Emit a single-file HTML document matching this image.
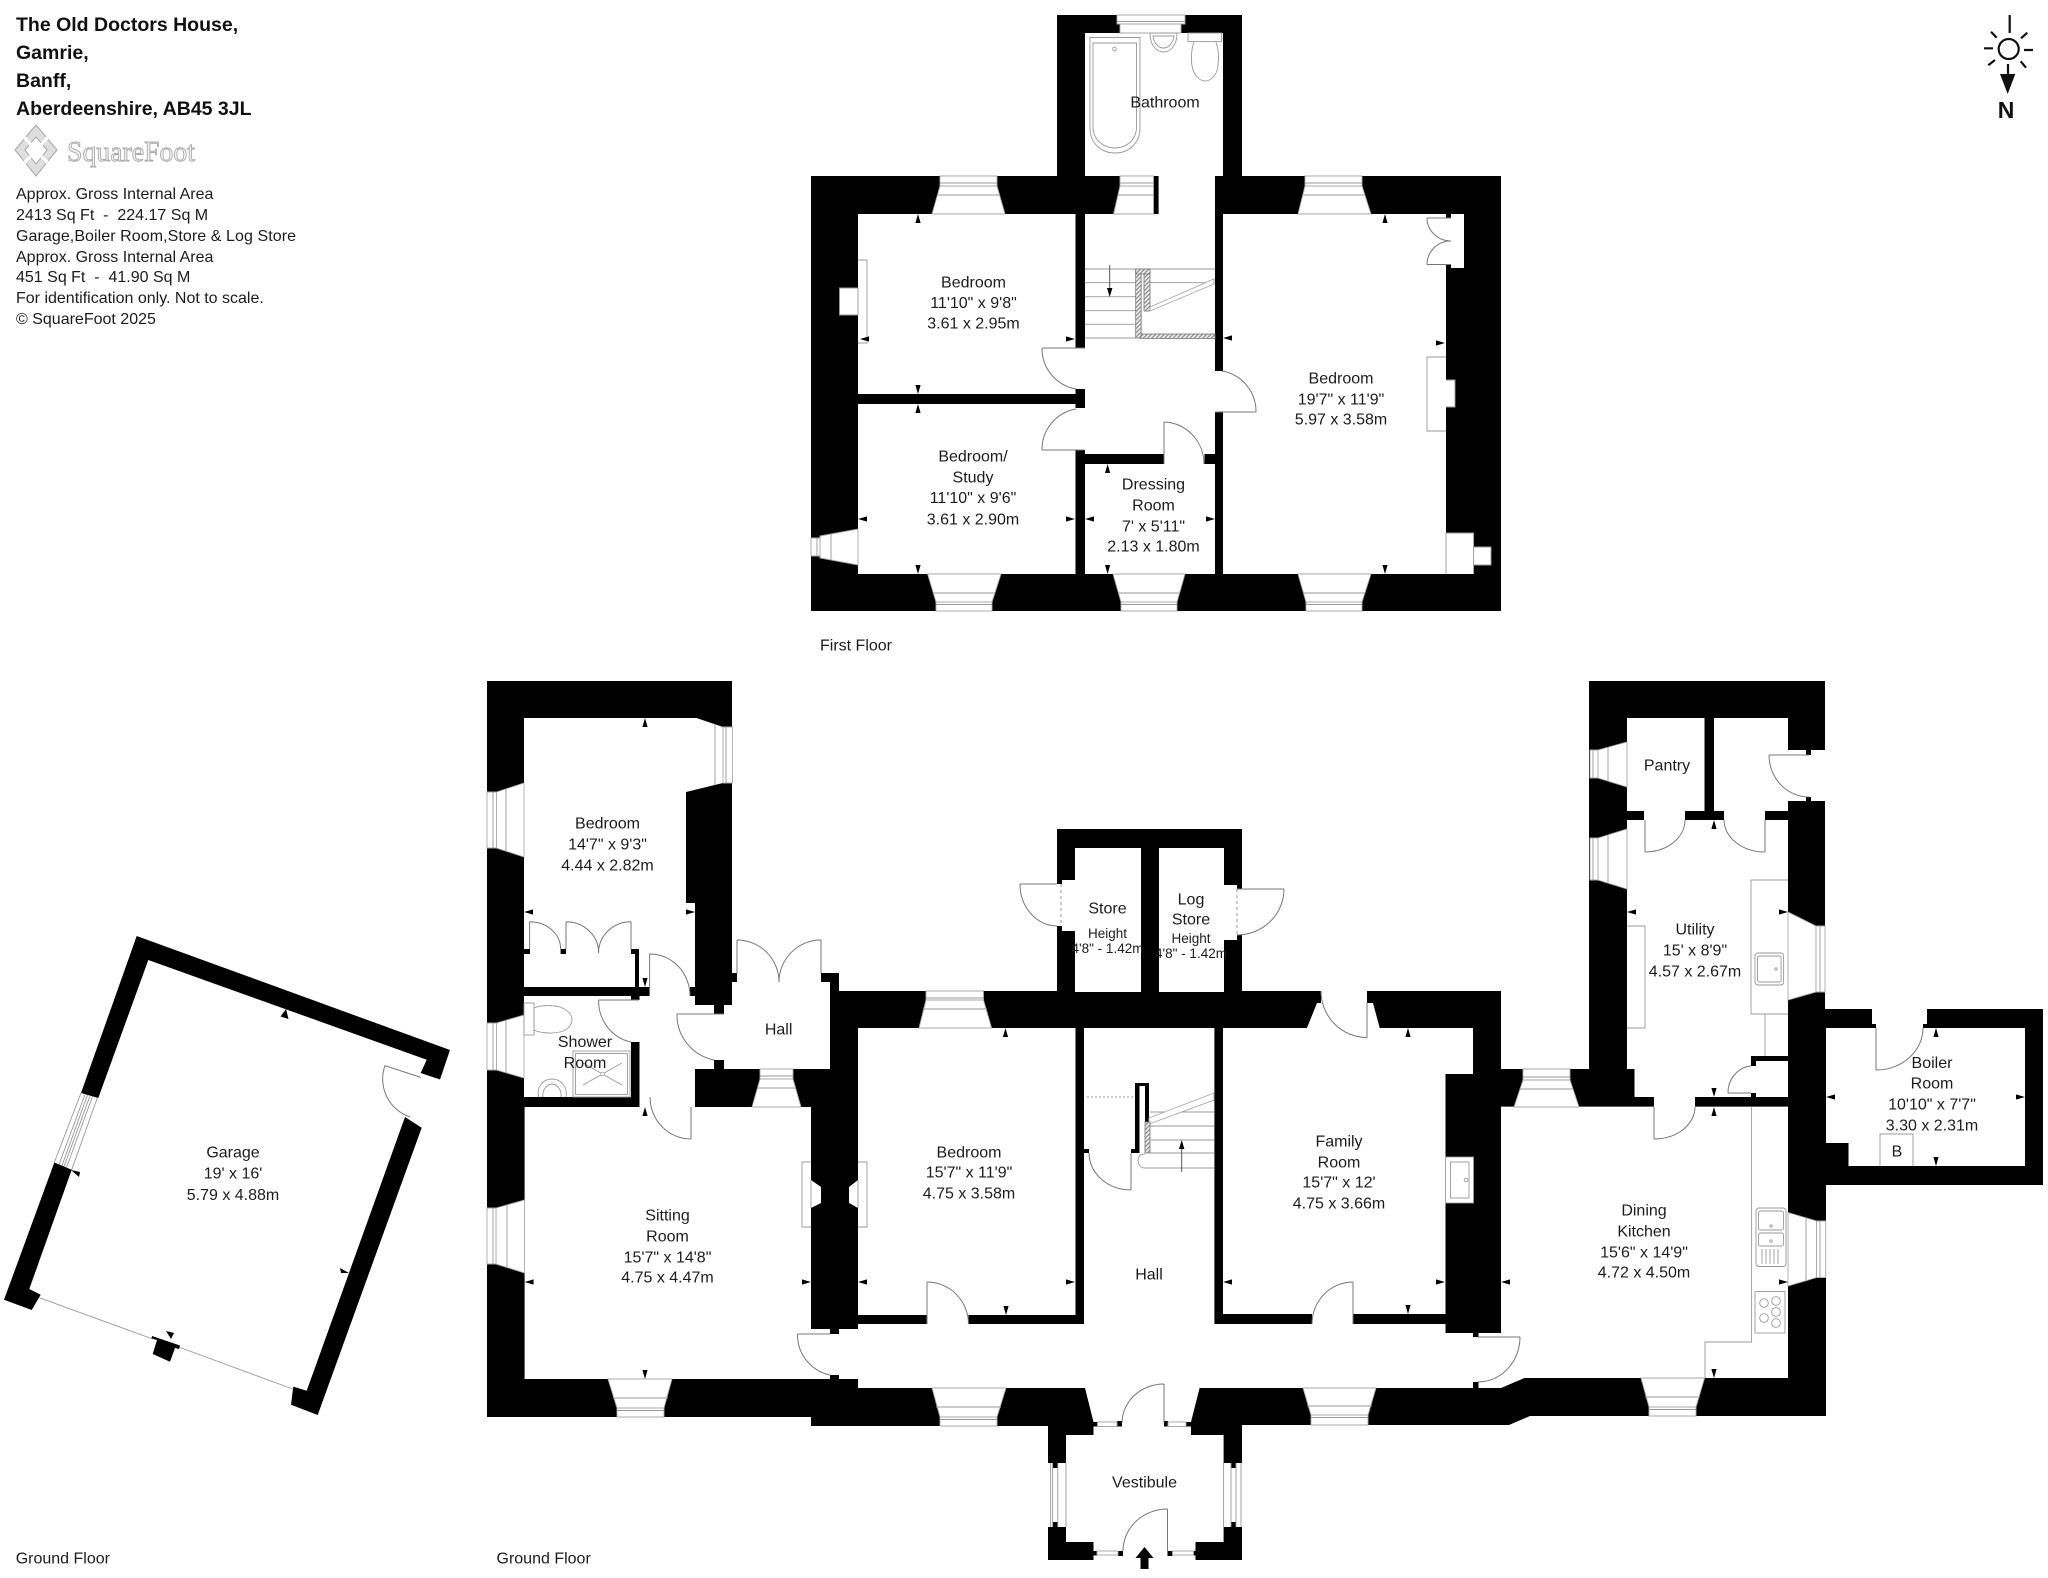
<!DOCTYPE html>
<html><head><meta charset="utf-8"><title>The Old Doctors House floor plan</title>
<style>
html,body{margin:0;padding:0;background:#fff}
svg{display:block}
text{font-family:"Liberation Sans",Arial,sans-serif;fill:#1c1c1c;font-size:16px}
.t{text-anchor:middle}
.s{text-anchor:middle;font-size:13.5px}
.i{white-space:pre}
.b{font-weight:bold;font-size:19.5px;fill:#111}
.w{fill:#fff;stroke:#a8a8a8;stroke-width:.9}
.l{fill:none;stroke:#999;stroke-width:.9}
.d{fill:none;stroke:#777;stroke-width:1}
.h{fill:url(#hatch);stroke:#777;stroke-width:.8}
</style></head><body>
<svg width="2048" height="1578" viewBox="0 0 2048 1578" xmlns="http://www.w3.org/2000/svg">
<defs>
<pattern id="hatch" width="3" height="3" patternUnits="userSpaceOnUse" patternTransform="rotate(45)"><rect width="3" height="3" fill="#eee"/><rect width="1.2" height="3" fill="#8a8a8a"/></pattern>
<polygon id="au" points="0,0 -2.6,9 2.6,9" fill="#000"/>
<polygon id="ad" points="0,0 -2.6,-9 2.6,-9" fill="#000"/>
<polygon id="al" points="0,0 9,-2.6 9,2.6" fill="#000"/>
<polygon id="ar" points="0,0 -9,-2.6 -9,2.6" fill="#000"/>
</defs>
<rect width="2048" height="1578" fill="#fff"/>

<!-- HEADER -->
<text class="b" x="16" y="31">The Old Doctors House,</text>
<text class="b" x="16" y="59">Gamrie,</text>
<text class="b" x="16" y="87">Banff,</text>
<text class="b" x="16" y="115">Aberdeenshire, AB45 3JL</text>
<g>
<polygon points="15,150 36,125 57,150 36,176" fill="#dedede" stroke="#a5a5a5"/>
<polygon points="25,150 36,137 47,150 36,164" fill="#fff" stroke="#a5a5a5"/>
<path d="M24 137L32 146M48 137L40 146M24 163L32 155M48 163L40 155" stroke="#fff" stroke-width="3"/>
</g>
<text x="67" y="161" textLength="128" lengthAdjust="spacingAndGlyphs" style="font-family:'Liberation Serif',serif;font-size:29px;fill:#f2f2f2;stroke:#a8a8a8;stroke-width:.9">SquareFoot</text>
<text class="i" x="16" y="199">Approx. Gross Internal Area</text>
<text class="i" x="16" y="220">2413 Sq Ft  -  224.17 Sq M</text>
<text class="i" x="16" y="241" textLength="280">Garage,Boiler Room,Store &amp; Log Store</text>
<text class="i" x="16" y="262">Approx. Gross Internal Area</text>
<text class="i" x="16" y="282">451 Sq Ft  -  41.90 Sq M</text>
<text class="i" x="16" y="303">For identification only. Not to scale.</text>
<text class="i" x="16" y="324">© SquareFoot 2025</text>

<!-- COMPASS -->
<g stroke="#111" stroke-width="2.2" fill="none">
<circle cx="2008.7" cy="49" r="10"/>
<path d="M2009.7 15V33M1984 48.3H1993M2024 50H2033M1991 31.7L1996.7 37.7M2027.3 32.7L2021 38.3M1995 60L1988.3 65.3M2020.7 61.3L2026 67.7M2008 64V76"/>
</g>
<polygon points="2000,74 2015.3,74 2007.7,94" fill="#111"/>
<text x="2006" y="118" style="font-size:23px;font-weight:bold;text-anchor:middle;fill:#111">N</text>

<!-- FIRST FLOOR -->
<g>
<rect x="811" y="176" width="690" height="435" fill="#000"/>
<rect x="1057" y="15" width="185" height="161" fill="#000"/>
<g fill="#fff">
<rect x="858" y="214" width="217.5" height="180"/>
<rect x="858" y="404" width="217.5" height="170"/>
<rect x="1085" y="464" width="130" height="110"/>
<polygon points="1085,33 1223,33 1223,176 1215,176 1215,454 1204.5,454 1204.5,464 1164,464 1164,454 1085,454 1085,214 1158.6,214 1158.6,176 1085,176"/>
<rect x="1075" y="348" width="11" height="41"/>
<rect x="1075" y="408" width="11" height="42"/>
<rect x="1214" y="371" width="10" height="41"/>
<rect x="1223" y="214" width="223" height="360"/>
<rect x="1445" y="214" width="19" height="54"/>
<rect x="839.5" y="288" width="19" height="27"/>
<rect x="1446" y="380" width="9" height="27"/>
<rect x="1445" y="533" width="28.6" height="41"/>
<rect x="1473" y="547" width="18" height="18"/>
</g>
<rect x="1446" y="214" width="5" height="4" fill="#000"/>
<rect x="1446" y="264.5" width="5" height="4" fill="#000"/>
<!-- windows -->
<path class="w" d="M940 186L932 214H1005L997 186Z"/><path class="w" d="M940 176H997V186H940Z"/><path class="l" d="M940 183H997M937 195H1000"/>
<path class="w" d="M1120 186L1113.6 214H1153.5V186Z"/><path class="w" d="M1120 176H1153.5V186H1120Z"/><path class="l" d="M1120 183H1153.5M1118 195H1153.5"/>
<path class="w" d="M1305 186L1298 214H1371L1362 186Z"/><path class="w" d="M1305 176H1362V186H1305Z"/><path class="l" d="M1305 183H1362M1302 195H1365"/>
<path class="w" d="M927.6 574H1001L992 602H936Z"/><path class="w" d="M936 602H992V611H936Z"/><path class="l" d="M936 604.5H992M933 593H995"/>
<path class="w" d="M1113 574H1185L1177 602H1121Z"/><path class="w" d="M1121 602H1177V611H1121Z"/><path class="l" d="M1121 604.5H1177M1118 593H1180"/>
<path class="w" d="M1298 574H1371L1362 602H1306Z"/><path class="w" d="M1306 602H1362V611H1306Z"/><path class="l" d="M1306 604.5H1362M1303 593H1365"/>
<path class="w" d="M1120 24H1181V33H1120Z"/><path class="w" d="M1117 15H1185V24H1117Z"/><path class="l" d="M1117 21.5H1185"/>
<path class="w" d="M820 536L858 529V565L820 558Z"/><path class="w" d="M811 538H820V556H811Z"/><path class="l" d="M817 538V556M831 534V560"/>
<!-- fireplaces -->
<path class="l" d="M858 260H867V343H858"/>
<path class="l" d="M1446 357H1427V431H1446"/>
<path class="l" d="M1446 574V533H1473.6V574M1473.6 547H1491V565H1473.6"/>
<path class="l" d="M839.5 288H858V315H839.5Z"/>
<path class="l" d="M1446 380H1455V407H1446"/>
<!-- cupboard doors -->
<path class="d" d="M1427 218H1451M1427 264.5H1451M1427 218A24 23 0 0 0 1451 241M1427 264.5A24 23.5 0 0 1 1451 241"/>
<!-- stairs -->
<path class="l" d="M1085 269H1215M1085 282.7H1215M1085 296.7H1136M1085 310.7H1136M1085 324.3H1136M1085 338H1215"/>
<rect fill="#fff" x="1141" y="274" width="3" height="37"/>
<rect class="h" x="1135.7" y="269" width="5.5" height="69"/>
<rect class="h" x="1141" y="334" width="74" height="4.4"/>
<rect class="h" x="1144" y="269" width="6" height="42"/>
<rect class="h" x="1135.7" y="269" width="14.3" height="5"/>
<path class="w" d="M1150 307L1214 279V284L1150 311Z"/>
<path d="M1109.7 265V292" stroke="#555" stroke-width="1"/><polygon points="1107,288 1112.4,288 1109.7,297" fill="#000"/>
<!-- doors -->
<path class="d" d="M1042 348H1085M1042 348A41 41 0 0 0 1076 389"/>
<path class="d" d="M1042 450H1085M1042 450A41 41 0 0 1 1076 409"/>
<path class="d" d="M1215 412H1256M1256 412A41 41 0 0 0 1222 371"/>
<path class="d" d="M1164 464V422M1164 422A41 42 0 0 1 1204 464"/>
<!-- bathroom -->
<path class="l" d="M1090 37.5H1140V128C1140 144 1128 153 1115 153C1102 153 1090 144 1090 128Z"/>
<path class="l" d="M1093 43H1136.5V127C1136.5 140 1126 148 1115 148C1104 148 1093 140 1093 127Z"/>
<circle class="l" cx="1114.5" cy="49" r="1.8"/>
<path class="l" d="M1150 33H1177C1177 46 1170 52 1163.5 52C1157 52 1150 46 1150 33Z"/>
<path class="l" d="M1153 36H1174C1173 44 1168 48 1163.5 48C1159 48 1154 44 1153 36Z"/>
<rect class="l" x="1188" y="33" width="33.5" height="8.6"/>
<path class="l" d="M1194 42C1191 50 1191 60 1192 66C1194 76 1200 81 1205 81C1211 81 1217 75 1218 66C1219 58 1219 50 1216 42"/>
</g>
<g>
<use href="#au" x="918" y="214"/><use href="#ad" x="918" y="394"/><use href="#al" x="860" y="339"/><use href="#ar" x="1075" y="339"/>
<use href="#au" x="918" y="404"/><use href="#ad" x="918" y="574"/><use href="#al" x="858" y="519"/><use href="#ar" x="1075" y="519"/>
<use href="#au" x="1107.6" y="464"/><use href="#ad" x="1107.6" y="574"/><use href="#al" x="1085" y="519"/><use href="#ar" x="1215" y="519"/>
<use href="#au" x="1385" y="214"/><use href="#ad" x="1385" y="574"/><use href="#al" x="1223" y="338"/><use href="#ar" x="1445" y="343"/>
</g>
<g>
<text class="t" x="1165" y="107.5">Bathroom</text>
<text class="t" x="973.5" y="287.5">Bedroom</text><text class="t" x="973.5" y="308">11'10" x 9'8"</text><text class="t" x="973.5" y="328.5">3.61 x 2.95m</text>
<text class="t" x="973" y="461.5">Bedroom/</text><text class="t" x="973" y="482.5">Study</text><text class="t" x="973" y="503">11'10" x 9'6"</text><text class="t" x="973" y="524.5">3.61 x 2.90m</text>
<text class="t" x="1153.5" y="489.5">Dressing</text><text class="t" x="1153.5" y="510.5">Room</text><text class="t" x="1153.5" y="531.5">7' x 5'11"</text><text class="t" x="1153.5" y="551.5">2.13 x 1.80m</text>
<text class="t" x="1341" y="383.5">Bedroom</text><text class="t" x="1341" y="404.5">19'7" x 11'9"</text><text class="t" x="1341" y="424.5">5.97 x 3.58m</text>
<text x="820" y="650.5">First Floor</text>
</g>

<!-- GROUND FLOOR MAIN -->
<g>
<polygon fill="#000" points="487,681 732,681 732,973 839,973 839,991 1057,991 1057,829 1242,829 1242,991 1501,991 1501,1069 1589,1069 1589,681 1825,681 1825,1009 2043,1009 2043,1185 1826,1185 1826,1416 1530,1416 1509,1425 1242,1425 1242,1560 1048,1560 1048,1426 811,1426 811,1417 487,1417"/>
<g fill="#fff">
<polygon points="524,718 696.5,718 723,727 723,783 686,792 686,903 695,903 695,987 524,987"/>
<rect x="524" y="996" width="107" height="101"/>
<rect x="630" y="1000" width="10" height="42"/>
<rect x="650" y="986" width="40" height="11"/>
<rect x="639.5" y="996" width="55.5" height="111"/>
<rect x="694" y="1005" width="20" height="64"/>
<rect x="713" y="1014" width="12" height="46"/>
<rect x="650" y="1096" width="41" height="12"/>
<polygon points="737,972 821,972 821,982 830,982 830,1069 724,1069 724,1005 732,1005 732,982 737,982"/>
<polygon points="524.6,1107 811,1107 811,1329 858,1329 858,1324 1084,1324 1084,1028 1214.4,1028 1214.4,1324 1445.5,1324 1445.5,1333 1501,1333 1501,1106.6 1788,1106.6 1788,1378 1524.5,1378 1501,1388 858,1388 858,1379 524.6,1379"/>
<rect x="858" y="1028" width="217.5" height="287"/>
<rect x="927" y="1314" width="41.5" height="11"/>
<polygon points="1223,1028 1473,1028 1473,1074 1445.5,1074 1445.5,1314 1223,1314"/>
<rect x="1312" y="1313" width="41" height="12"/>
<polygon points="1321,990 1367,990 1367,1003 1373,1003 1380,1029 1306.5,1029 1317,1003 1321,1003"/>
<rect x="1075" y="848" width="66" height="144"/>
<rect x="1159" y="848" width="65" height="144"/>
<rect x="1056" y="884" width="20" height="42"/>
<rect x="1062" y="880" width="14" height="51"/>
<rect x="1223" y="885" width="14" height="55"/>
<rect x="1236" y="889" width="7" height="46"/>
<rect x="1627" y="718" width="77.5" height="93"/>
<rect x="1714" y="718" width="74" height="93"/>
<rect x="1787" y="750" width="39" height="51"/>
<polygon points="1627,820 1788,820 1788,1097 1634.5,1097 1634.5,1069 1627,1069"/>
<rect x="1644" y="810" width="41" height="11"/>
<rect x="1724" y="810" width="41" height="11"/>
<rect x="1654" y="1096" width="41" height="12"/>
<polygon points="1826,1028 2025,1028 2025,1166 1848.5,1166 1848.5,1143 1826,1143"/>
<polygon points="1872,1008 1927,1008 1927,1024 1923,1024 1923,1029 1876,1029 1876,1024 1872,1024"/>
<polygon points="1085,1388 1199.6,1388 1191,1422 1191,1435 1223.6,1435 1223.6,1542 1195.5,1542 1195.5,1561 1093.5,1561 1093.5,1542 1066,1542 1066,1435 1093.5,1435 1093.5,1422"/>
<rect x="1047" y="1463" width="20" height="64"/>
<rect x="1223" y="1463" width="20" height="64"/>
<rect x="1445.5" y="1157" width="28" height="46"/>
</g>
<g fill="#000">
<rect x="524" y="949" width="6" height="5"/><rect x="560.6" y="949" width="5.4" height="5"/><rect x="631" y="949" width="8" height="5"/><rect x="635" y="954" width="4" height="33"/>
<rect x="732" y="973" width="5" height="9"/><rect x="821" y="973" width="9" height="9"/>
<rect x="830" y="1329" width="9" height="5"/><rect x="830" y="1375" width="9" height="4.5"/>
<rect x="1473" y="1333" width="5.5" height="4"/><rect x="1473" y="1382" width="5.5" height="6"/>
<rect x="1751" y="1056" width="37" height="5"/><rect x="1751" y="1056" width="5" height="10"/><rect x="1751" y="1093" width="5" height="4"/>
<rect x="1806" y="750" width="5" height="5"/><rect x="1806" y="797" width="5" height="4"/>
<rect x="1704.5" y="718" width="9.5" height="93"/>
<rect x="1093.5" y="1422" width="4" height="4.5"/><rect x="1117" y="1421" width="5" height="5.5"/><rect x="1164" y="1421" width="4" height="5.5"/><rect x="1186" y="1422" width="5" height="4.5"/>
<rect x="1118" y="1551" width="5" height="5"/><rect x="1167.5" y="1551" width="5" height="5"/><rect x="1093.5" y="1551" width="3.5" height="4.5"/><rect x="1193.5" y="1551" width="2" height="4.5"/>
<rect x="1053" y="1463" width="5" height="5"/><rect x="1053" y="1522" width="5" height="5"/>
<rect x="1231" y="1463" width="5" height="5"/><rect x="1231" y="1522" width="5" height="5"/>
<rect x="1084" y="1149" width="5" height="4"/>
<rect x="1135" y="1083" width="4.5" height="70"/><rect x="1135" y="1083" width="14" height="3"/><rect x="1145" y="1083" width="4" height="39"/><rect x="1131" y="1149" width="8" height="4"/>
</g>
<!-- windows -->
<path class="w" d="M496.5 792L524 783V857L496.5 848Z"/><path class="w" d="M487 792H496.5V848H487Z"/><path class="l" d="M493 792V848M506 789V851"/>
<path class="w" d="M496.5 1023L524 1015V1078L496.5 1070Z"/><path class="w" d="M487 1023H496.5V1070H487Z"/><path class="l" d="M493 1023V1070M506 1020V1073"/>
<path class="w" d="M496 1208L524.6 1200V1273L496 1264Z"/><path class="w" d="M487 1208H496V1264H487Z"/><path class="l" d="M493 1208V1264M507 1205V1268"/>
<path class="w" d="M723 727H732.4V783H723Z"/><path class="l" d="M726 727V783M715 724V785"/>
<path class="w" d="M760 1079L752 1107H801L793 1079Z"/><path class="w" d="M760 1069H793V1079H760Z"/><path class="l" d="M760 1076H793M757 1088H796"/>
<path class="w" d="M926 1000L919 1028H991.6L983.5 1000Z"/><path class="w" d="M926 991H983.5V1000H926Z"/><path class="l" d="M926 998H983.5M923 1009H987"/>
<path class="w" d="M608 1379H672L664 1408H617Z"/><path class="w" d="M617 1408H664V1417H617Z"/><path class="l" d="M617 1410.5H664M613 1398H668"/>
<path class="w" d="M932 1388H1006L997 1417H940Z"/><path class="w" d="M940 1417H997V1426H940Z"/><path class="l" d="M940 1419.5H997M936 1407H1001"/>
<path class="w" d="M1303 1388H1376L1368 1415H1311Z"/><path class="w" d="M1311 1415H1368V1425H1311Z"/><path class="l" d="M1311 1417.5H1368M1307 1406H1372"/>
<path class="w" d="M1641 1378H1704.6L1696 1407H1649Z"/><path class="w" d="M1649 1407H1696V1416H1649Z"/><path class="l" d="M1649 1409.5H1696M1645 1397H1700"/>
<path class="w" d="M1523 1080L1514 1107H1579L1570 1080Z"/><path class="w" d="M1523 1069H1570V1080H1523Z"/><path class="l" d="M1523 1077H1570M1520 1089H1573"/>
<path class="w" d="M1598 750L1627 742V787L1598 778Z"/><path class="w" d="M1590 750H1598V778H1590Z"/><path class="l" d="M1593 750V778M1608 747V781"/>
<path class="w" d="M1598 838L1627 829V889L1598 880Z"/><path class="w" d="M1590 838H1598V880H1590Z"/><path class="l" d="M1593 838V880M1608 835V883"/>
<polygon class="w" points="1788,912 1816,926 1816,992 1788,1000"/><path class="w" d="M1816 926H1825V992H1816Z"/><path class="l" d="M1820 926V992"/>
<polygon class="w" points="1788,1212.5 1816.5,1221 1816.5,1277.6 1788,1286"/><path class="w" d="M1816.5 1221H1825.7V1277.6H1816.5Z"/><path class="l" d="M1820 1221V1277.6M1806 1218V1280"/>
<!-- vestibule windows -->
<path class="w" d="M1097.5 1422H1117V1426.5H1097.5Z"/><path class="w" d="M1168 1422H1186V1426.5H1168Z"/>
<path class="w" d="M1097 1551H1118V1555H1097Z"/><path class="w" d="M1172.5 1551H1193.5V1555H1172.5Z"/>
<path class="l" d="M1050.6 1463V1527M1052.6 1463V1527M1057.8 1463V1527M1066 1463V1527"/>
<path class="l" d="M1223.6 1463V1527M1231 1463V1527M1236 1463V1527M1241 1463V1527"/>
<!-- sitting fireplace -->
<path class="l" d="M811 1162H802V1227H811M858 1162H867V1227H858"/>
<polygon fill="#fff" points="811,1180 821,1187 821,1203 811,1208"/>
<polygon fill="#fff" points="858,1180 849,1187 849,1203 858,1208"/>
<path class="l" d="M811 1180V1208M858 1180V1208"/>
<!-- family stove -->
<rect class="l" x="1445.5" y="1157" width="28" height="46"/>
<rect class="l" x="1450.5" y="1162" width="18.5" height="36"/>
<circle class="l" cx="1466" cy="1180" r="1.8"/>
<!-- stairs -->
<path class="l" d="M1150 1112H1214M1150 1126H1214M1150 1140H1214M1150 1153H1214"/>
<path class="w" d="M1149 1118L1214 1093V1100L1149 1124Z"/>
<rect class="h" x="1145" y="1122" width="5" height="31"/>
<path class="l" d="M1214 1168H1145C1140 1168 1138 1164 1138 1161C1138 1157 1140 1154 1145 1154"/>
<path d="M1181.7 1172V1145" stroke="#555" stroke-width="1"/><polygon points="1179,1149 1184.4,1149 1181.7,1140" fill="#000"/>
<path d="M1087 1097H1135" stroke="#999" stroke-width="1" stroke-dasharray="2 2"/>
<path d="M1061 884V926M1237 889V935" stroke="#999" stroke-width="1" stroke-dasharray="3 3"/>
<!-- doors -->
<path class="d" d="M649.6 996V954M649.6 954A40 42 0 0 1 690 996"/>
<path class="d" d="M598.6 1000H639M598.6 1000A40 42 0 0 0 631 1042"/>
<path class="d" d="M677 1014H724M677 1014A46 46 0 0 0 714 1060"/>
<path class="d" d="M691 1107V1139M691 1139A41 42 0 0 1 650 1097"/>
<path class="d" d="M737 973V940M737 940A42 42 0 0 1 779 982M821 973V940M821 940A42 42 0 0 0 779 982"/>
<path class="d" d="M529.6 949V921.7M529.6 921.7A31 27 0 0 1 560.6 949M566 949V921.7M566 921.7A32.6 31 0 0 1 598.6 953M631 949V921.7M631 921.7A32.4 31 0 0 0 598.6 953"/>
<path class="d" d="M1020 884H1057M1020 884A37 42 0 0 0 1057 926"/>
<path class="d" d="M1284 889H1237M1284 889A47 46 0 0 1 1237 935"/>
<path class="d" d="M1367 1003V1037.5M1367 1037.5A46 46.5 0 0 1 1321 991"/>
<path class="d" d="M1769 755H1809M1769 755A40 42 0 0 0 1809 797"/>
<path class="d" d="M1645 820V852M1645 852A40 32 0 0 0 1685 820M1765 820V852M1765 852A41 32 0 0 1 1724 820"/>
<path class="d" d="M1728 1093H1751M1728 1093A25 27 0 0 1 1751 1066"/>
<path class="d" d="M1654 1107V1139M1654 1139A41 32 0 0 0 1695 1107"/>
<path class="d" d="M1876 1028V1070M1876 1070A47 42 0 0 0 1923 1028"/>
<path class="d" d="M927 1324V1282M927 1282A41.5 42 0 0 1 968.5 1324"/>
<path class="d" d="M1353 1324V1282M1353 1282A41 42 0 0 0 1312 1324"/>
<path class="d" d="M1478 1337H1520M1520 1337A42 45 0 0 1 1478 1382"/>
<path class="d" d="M797.5 1334H830M797.5 1334A41 41 0 0 0 830 1375"/>
<path class="d" d="M1131 1153V1190M1131 1190A42 37 0 0 1 1089 1153"/>
<path class="d" d="M1164 1423V1384M1164 1384A42 39 0 0 0 1122 1423"/>
<path class="d" d="M1167.5 1551V1509M1167.5 1509A44.5 42 0 0 0 1123 1551"/>
<!-- shower room fixtures -->
<rect class="l" x="524" y="1003" width="10" height="32"/>
<path class="l" d="M534 1008C540 1005 552 1005 560 1007C568 1010 572 1015 572 1019C572 1025 568 1030 560 1032C552 1034 540 1033 534 1030Z"/>
<path class="l" d="M538.6 1097C536 1086 544 1079 552 1079C560 1079 568 1086 566 1097"/>
<path class="l" d="M543 1097C542 1090 547 1084 552 1084C557 1084 562 1090 561 1097"/>
<rect class="l" x="573" y="1051" width="57" height="46"/>
<rect class="l" x="575.5" y="1053.5" width="52" height="41"/>
<path class="l" d="M583 1085L622 1063M583 1063L622 1085"/>
<circle class="w" cx="602.6" cy="1074" r="1.8"/>
<!-- utility fittings -->
<path class="l" d="M1788 880H1751V1014H1788M1765 1014V1056"/>
<rect class="l" x="1755" y="953" width="28.6" height="32" rx="3"/>
<rect class="l" x="1757.5" y="956" width="23.6" height="26" rx="2"/>
<circle class="l" cx="1776" cy="969" r="1.2"/>
<path class="l" d="M1627 926H1645V1028H1627"/>
<!-- kitchen fittings -->
<path class="l" d="M1751.6 1107V1342H1705V1378"/>
<rect class="l" x="1756" y="1208" width="30" height="58.5" rx="3"/>
<rect class="l" x="1758.5" y="1211" width="25" height="19" rx="2"/>
<rect class="l" x="1758.5" y="1233" width="25" height="13" rx="2"/>
<circle class="l" cx="1771" cy="1226" r="1.2"/><circle class="l" cx="1771" cy="1241" r="1.2"/>
<path class="l" d="M1762 1249V1264M1766 1249V1264M1770 1249V1264M1774 1249V1264M1778 1249V1264"/>
<rect class="l" x="1755" y="1291.5" width="30" height="41.5"/>
<circle class="l" cx="1764" cy="1303" r="4.3"/><circle class="l" cx="1776" cy="1301" r="4.3"/><circle class="l" cx="1776" cy="1312" r="4.3"/><circle class="l" cx="1764" cy="1318" r="4.3"/><circle class="l" cx="1776" cy="1323" r="4.3"/>
<path class="l" d="M1880 1166V1134H1913V1166"/>
<polygon points="1144.5,1547 1153.5,1558 1148.5,1558 1148.5,1569 1140.5,1569 1140.5,1558 1135.5,1558" fill="#000"/>
</g>
<g>
<use href="#au" x="645" y="718"/><use href="#ad" x="645" y="987"/><use href="#al" x="524" y="912"/><use href="#ar" x="695" y="912"/>
<use href="#au" x="645" y="1107"/><use href="#ad" x="645" y="1379"/><use href="#al" x="524.6" y="1282"/><use href="#ar" x="811" y="1282"/>
<use href="#au" x="1005.5" y="1028"/><use href="#ad" x="1006" y="1315"/><use href="#al" x="858" y="1282"/><use href="#ar" x="1075" y="1282"/>
<use href="#al" x="1223" y="1282"/><use href="#ar" x="1445" y="1282"/><use href="#au" x="1408" y="1028"/><use href="#ad" x="1408" y="1314"/>
<use href="#al" x="1501" y="1282"/><use href="#ar" x="1788" y="1282"/><use href="#ad" x="1714" y="1378"/><use href="#au" x="1714" y="1107"/>
<use href="#au" x="1714" y="820"/><use href="#ad" x="1714" y="1097"/><use href="#al" x="1627" y="912"/><use href="#ar" x="1788" y="912"/>
<use href="#au" x="1936" y="1028"/><use href="#ad" x="1936" y="1166"/><use href="#al" x="1826" y="1097"/><use href="#ar" x="2025" y="1097"/>
</g>
<g>
<text class="t" x="607.5" y="828.5">Bedroom</text><text class="t" x="607.5" y="849.5">14'7" x 9'3"</text><text class="t" x="607.5" y="870.5">4.44 x 2.82m</text>
<text class="t" x="585" y="1047">Shower</text><text class="t" x="585" y="1068">Room</text>
<text class="t" x="778.6" y="1034.5">Hall</text>
<text class="t" x="969" y="1157.5">Bedroom</text><text class="t" x="969" y="1177.5">15'7" x 11'9"</text><text class="t" x="969" y="1198.5">4.75 x 3.58m</text>
<text class="t" x="667.5" y="1220.5">Sitting</text><text class="t" x="667.5" y="1241.5">Room</text><text class="t" x="667.5" y="1262.5">15'7" x 14'8"</text><text class="t" x="667.5" y="1282.5">4.75 x 4.47m</text>
<text class="t" x="1149" y="1279.5">Hall</text>
<text class="t" x="1144.5" y="1487.5">Vestibule</text>
<text x="496.5" y="1563.5">Ground Floor</text>
<text class="t" x="1339" y="1146.5">Family</text><text class="t" x="1339" y="1167.5">Room</text><text class="t" x="1339" y="1187.5">15'7" x 12'</text><text class="t" x="1339" y="1208.5">4.75 x 3.66m</text>
<text class="t" x="1644" y="1215.5">Dining</text><text class="t" x="1644" y="1236.5">Kitchen</text><text class="t" x="1644" y="1257.5">15'6" x 14'9"</text><text class="t" x="1644" y="1277.5">4.72 x 4.50m</text>
<text class="t" x="1932" y="1068">Boiler</text><text class="t" x="1932" y="1088.5">Room</text><text class="t" x="1932" y="1109.5">10'10" x 7'7"</text><text class="t" x="1932" y="1130.5">3.30 x 2.31m</text>
<text class="t" x="1897" y="1156.5">B</text>
<text class="t" x="1695" y="934.5">Utility</text><text class="t" x="1695" y="955.5">15' x 8'9"</text><text class="t" x="1695" y="976.5">4.57 x 2.67m</text>
<text class="t" x="1667" y="770.5">Pantry</text>
<text class="t" x="1107.5" y="913.5">Store</text><text class="s" x="1107.5" y="938">Height</text><text class="s" x="1107.5" y="953">4'8" - 1.42m</text>
<text class="t" x="1191" y="904.5">Log</text><text class="t" x="1191" y="924.5">Store</text><text class="s" x="1191" y="943">Height</text><text class="s" x="1191" y="958">4'8" - 1.42m</text>
</g>

<!-- GARAGE -->
<g>
<polygon fill="#000" points="136.7,936 450,1050 440,1079.5 420.7,1073 426.7,1059.7 148.3,960 98.3,1098 81,1093"/>
<polygon fill="#000" points="54.3,1162.5 71.7,1169.7 29.3,1289 40.7,1294.7 31.7,1310 4,1299.8"/>
<polygon fill="#000" points="405,1117 421.7,1127.7 317.7,1415 291,1404.7 293.3,1386.6 306.7,1390.8"/>
<polygon fill="#000" points="152,1336 180,1345.5 179,1349 175,1348 170,1361.7 152.7,1354 157,1340 151.5,1338.5"/>
<path class="l" d="M39.3 1297.7L152.7 1339M180 1347.5L292.7 1389"/>
<path class="l" d="M81 1093L54.3 1162.5M97.3 1098L71.7 1169.7M85 1094.5L59 1164.5M87.5 1095L62 1165.5M90 1096L64 1166.5M92.5 1096.5L66.5 1167.5"/>
<path class="d" d="M420.7 1077.4L385 1065.6A40 40 0 0 0 410 1117"/>
<polygon points="286,1009 280.5,1016.5 288.5,1019" fill="#000"/>
<polygon points="71,1170 80,1172 79,1177" fill="#000"/>
<polygon points="349,1273 340,1268 341,1273" fill="#000"/>
<polygon points="166,1331 174,1333 171,1339" fill="#000"/>
<text class="t" x="233" y="1157.5">Garage</text><text class="t" x="233" y="1178.5">19' x 16'</text><text class="t" x="233" y="1200">5.79 x 4.88m</text>
<text x="15.7" y="1563.5">Ground Floor</text>
</g>
</svg>
</body></html>
